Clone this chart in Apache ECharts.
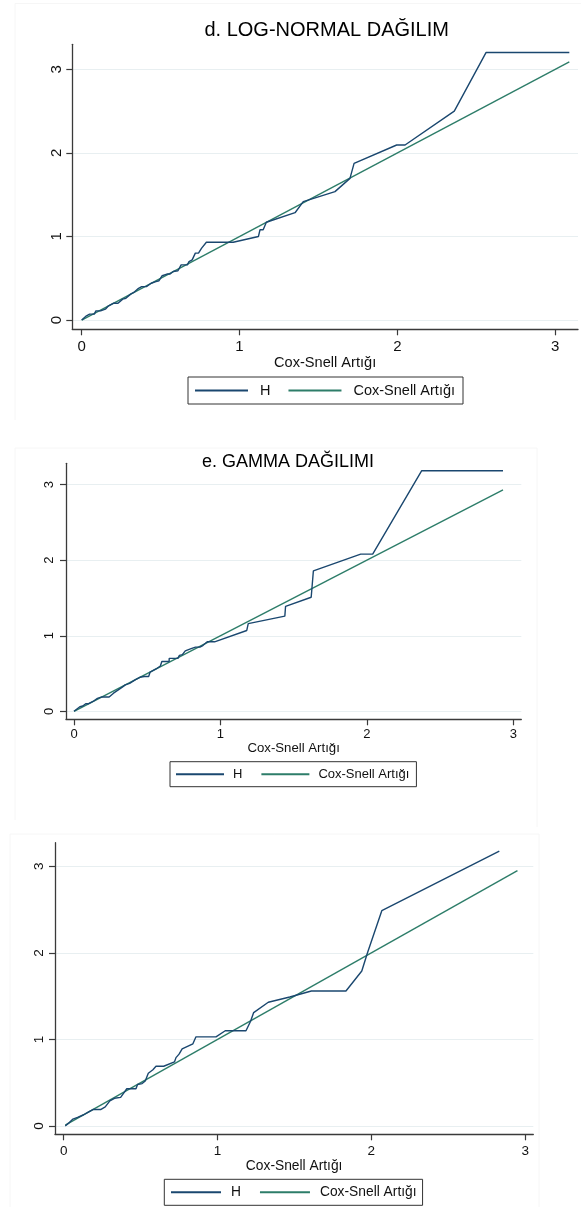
<!DOCTYPE html>
<html><head><meta charset="utf-8">
<script src="https://cdn.jsdelivr.net/npm/echarts@6/dist/echarts.min.js"></script>
<style>html,body{margin:0;padding:0;background:#fff}#c{width:581px;height:1207px}</style>
</head><body><div id="c"></div>
<script>
// ---------- data ----------
const tickValues = [0, 1, 2, 3];
const panelTitles = ['d. LOG-NORMAL DAĞILIM', 'e. GAMMA DAĞILIMI', ''];
const xAxisTitle = 'Cox-Snell Artığı';
const seriesNames = ['H', 'Cox-Snell Artığı'];

// Panel d: log-normal
const lognHX = [0,0.03,0.05,0.08,0.09,0.12,0.15,0.17,0.2,0.23,0.26,0.28,0.31,0.33,0.36,0.38,0.41,0.44,0.47,0.49,0.51,0.54,0.56,0.58,0.61,0.63,0.67,0.68,0.7,0.72,0.74,0.76,0.79,0.96,1.12,1.13,1.15,1.17,1.352,1.404,1.605,1.70,1.726,1.996,2.049,2.361,2.562,3.09];
const lognHY = [0,0.05,0.07,0.07,0.11,0.11,0.13,0.17,0.2,0.2,0.25,0.26,0.31,0.33,0.38,0.4,0.4,0.44,0.46,0.47,0.53,0.55,0.55,0.58,0.59,0.66,0.66,0.7,0.72,0.8,0.8,0.86,0.93,0.93,1.0,1.08,1.08,1.17,1.284,1.416,1.536,1.695,1.875,2.094,2.094,2.5,3.2,3.2];
const lognCsX = [0, 3.09];
const lognCsY = [0, 3.09];

// Panel e: gamma
const gamHX = [0,0.02,0.04,0.06,0.08,0.1,0.13,0.16,0.19,0.24,0.27,0.3,0.33,0.35,0.38,0.42,0.45,0.48,0.51,0.52,0.56,0.59,0.6,0.65,0.65,0.71,0.72,0.74,0.76,0.8,0.83,0.86,0.88,0.91,0.96,1.18,1.19,1.44,1.445,1.62,1.635,1.958,2.04,2.375,2.93];
const gamHY = [0,0.03,0.06,0.07,0.1,0.1,0.13,0.17,0.19,0.19,0.24,0.28,0.32,0.35,0.37,0.42,0.45,0.46,0.46,0.52,0.56,0.6,0.66,0.66,0.7,0.7,0.74,0.75,0.8,0.83,0.85,0.85,0.87,0.92,0.92,1.07,1.16,1.26,1.39,1.51,1.86,2.08,2.08,3.185,3.185];
const gamCsX = [0, 2.93];
const gamCsY = [0, 2.93];

// Panel (third, untitled)
const p3HX = [0.01,0.03,0.06,0.09,0.13,0.16,0.19,0.24,0.27,0.3,0.33,0.37,0.39,0.41,0.47,0.48,0.51,0.53,0.55,0.58,0.6,0.65,0.72,0.73,0.75,0.77,0.84,0.86,0.99,1.05,1.185,1.215,1.235,1.33,1.47,1.61,1.835,1.938,1.974,2.068,2.832];
const p3HY = [0,0.03,0.08,0.1,0.13,0.16,0.19,0.19,0.22,0.29,0.32,0.33,0.38,0.43,0.43,0.48,0.49,0.52,0.61,0.65,0.69,0.69,0.74,0.79,0.83,0.89,0.95,1.03,1.03,1.1,1.1,1.21,1.31,1.43,1.49,1.56,1.56,1.79,1.995,2.487,3.177];
const p3CsX = [0.01, 2.95];
const p3CsY = [0.01, 2.95];

const panelData = [
  {hx: lognHX, hy: lognHY, cx: lognCsX, cy: lognCsY},
  {hx: gamHX, hy: gamHY, cx: gamCsX, cy: gamCsY},
  {hx: p3HX, hy: p3HY, cx: p3CsX, cy: p3CsY}
];

// ---------- layout / style ----------
const FONT = '"Liberation Sans", Arial, sans-serif';
const NAVY = '#1a476f';
const GREEN = '#2d7d69';
const AXIS = '#3a3a3a';
const GRID = '#e8eff1';

const layout = [
  { grid: {left: 72.3, top: 44.3, width: 505.7, height: 285},
    x: [-0.0596, 3.145], y: [-0.111, 3.299],
    tickFont: 15, xMargin: 10, yMargin: 8, nameFont: 14.6, nameGap: 24.4,
    title: {x: 326.7, y: 20, size: 20},
    legend: {left: 188, top: 377, pad: [6, 8, 6, 7], font: 14.5, lh: 15, iw: 53, gap: 18, tp: 7} },
  { grid: {left: 66, top: 463.3, width: 455.3, height: 256},
    x: [-0.0546, 3.055], y: [-0.106, 3.283],
    tickFont: 13, xMargin: 9, yMargin: 10, nameFont: 13.2, nameGap: 22.4,
    title: {x: 288, y: 452.7, size: 18},
    legend: {left: 170, top: 761.7, pad: [6, 7, 6, 6], font: 13, lh: 13, iw: 48, gap: 19, tp: 4} },
  { grid: {left: 55, top: 842.7, width: 478.3, height: 291.6},
    x: [-0.0566, 3.053], y: [-0.096, 3.273],
    tickFont: 13.5, xMargin: 10, yMargin: 9, nameFont: 13.8, nameGap: 23.1,
    title: null,
    legend: {left: 164.3, top: 1179.3, pad: [6, 6, 6, 6.7], font: 13.8, lh: 14, iw: 50, gap: 19, tp: 5} }
];

const grids = [], xAxes = [], yAxes = [], series = [], titles = [], legends = [];
layout.forEach((L, i) => {
  grids.push(Object.assign({containLabel: false}, L.grid));
  xAxes.push({
    type: 'value', gridIndex: i, min: L.x[0], max: L.x[1],
    axisLine: {show: true, onZero: false, lineStyle: {color: AXIS, width: 1.3}},
    axisTick: {show: true, length: 6, customValues: tickValues, lineStyle: {color: AXIS, width: 1.2}},
    axisLabel: {customValues: tickValues, margin: L.xMargin, fontSize: L.tickFont, color: '#111', fontFamily: FONT},
    splitLine: {show: false},
    name: xAxisTitle, nameLocation: 'middle', nameGap: L.nameGap,
    nameTextStyle: {fontSize: L.nameFont, color: '#111', fontFamily: FONT}
  });
  yAxes.push({
    type: 'value', gridIndex: i, min: L.y[0], max: L.y[1],
    axisLine: {show: true, onZero: false, lineStyle: {color: AXIS, width: 1.3}},
    axisTick: {show: true, length: 6, customValues: tickValues, lineStyle: {color: AXIS, width: 1.2}},
    axisLabel: {customValues: tickValues, rotate: 90, margin: L.yMargin, fontSize: L.tickFont, color: '#111', fontFamily: FONT},
    splitLine: {show: true, lineStyle: {color: GRID, width: 1}}
  });
  const d = panelData[i];
  series.push({
    type: 'line', name: seriesNames[0], xAxisIndex: i, yAxisIndex: i,
    data: d.hx.map((x, k) => [x, d.hy[k]]),
    showSymbol: false, symbol: 'none', color: NAVY,
    lineStyle: {color: NAVY, width: 1.4}, z: 3
  });
  series.push({
    type: 'line', name: seriesNames[1], xAxisIndex: i, yAxisIndex: i,
    data: d.cx.map((x, k) => [x, d.cy[k]]),
    showSymbol: false, symbol: 'none', color: GREEN,
    lineStyle: {color: GREEN, width: 1.4}, z: 2
  });
  if (L.title && panelTitles[i]) {
    titles.push({
      text: panelTitles[i], left: L.title.x, top: L.title.y, textAlign: 'center', padding: 0,
      textStyle: {fontSize: L.title.size, fontWeight: 'normal', color: '#000', fontFamily: FONT, lineHeight: L.title.size}
    });
  }
  const G = L.legend;
  legends.push({
    data: seriesNames, left: G.left, top: G.top, orient: 'horizontal',
    padding: G.pad, itemGap: G.gap, itemWidth: G.iw, itemHeight: 2, icon: 'rect',
    borderColor: '#333', borderWidth: 1, borderRadius: 0, backgroundColor: '#fff',
    selectedMode: false,
    textStyle: {fontSize: G.font, lineHeight: G.lh, color: '#111', fontFamily: FONT, padding: [0, 0, 0, G.tp]}
  });
});

// very faint graph-region borders
const faint = '#f6f6f6';
const borders = [
  [15, 3.5, 581, 3.5], [15, 3.5, 15, 420],
  [15, 448, 537, 448], [15, 448, 15, 820], [537, 448, 537, 827],
  [10, 834, 539, 834], [10, 834, 10, 1207], [539, 834, 539, 1207]
].map(b => ({type: 'line', silent: true, z: -1,
  shape: {x1: b[0], y1: b[1], x2: b[2], y2: b[3]}, style: {stroke: faint, lineWidth: 1}}));

const chart = echarts.init(document.getElementById('c'), null, {renderer: 'canvas'});
chart.setOption({
  animation: false,
  backgroundColor: '#fff',
  title: titles,
  grid: grids, xAxis: xAxes, yAxis: yAxes,
  legend: legends,
  series: series,
  graphic: borders
});
</script></body></html>
